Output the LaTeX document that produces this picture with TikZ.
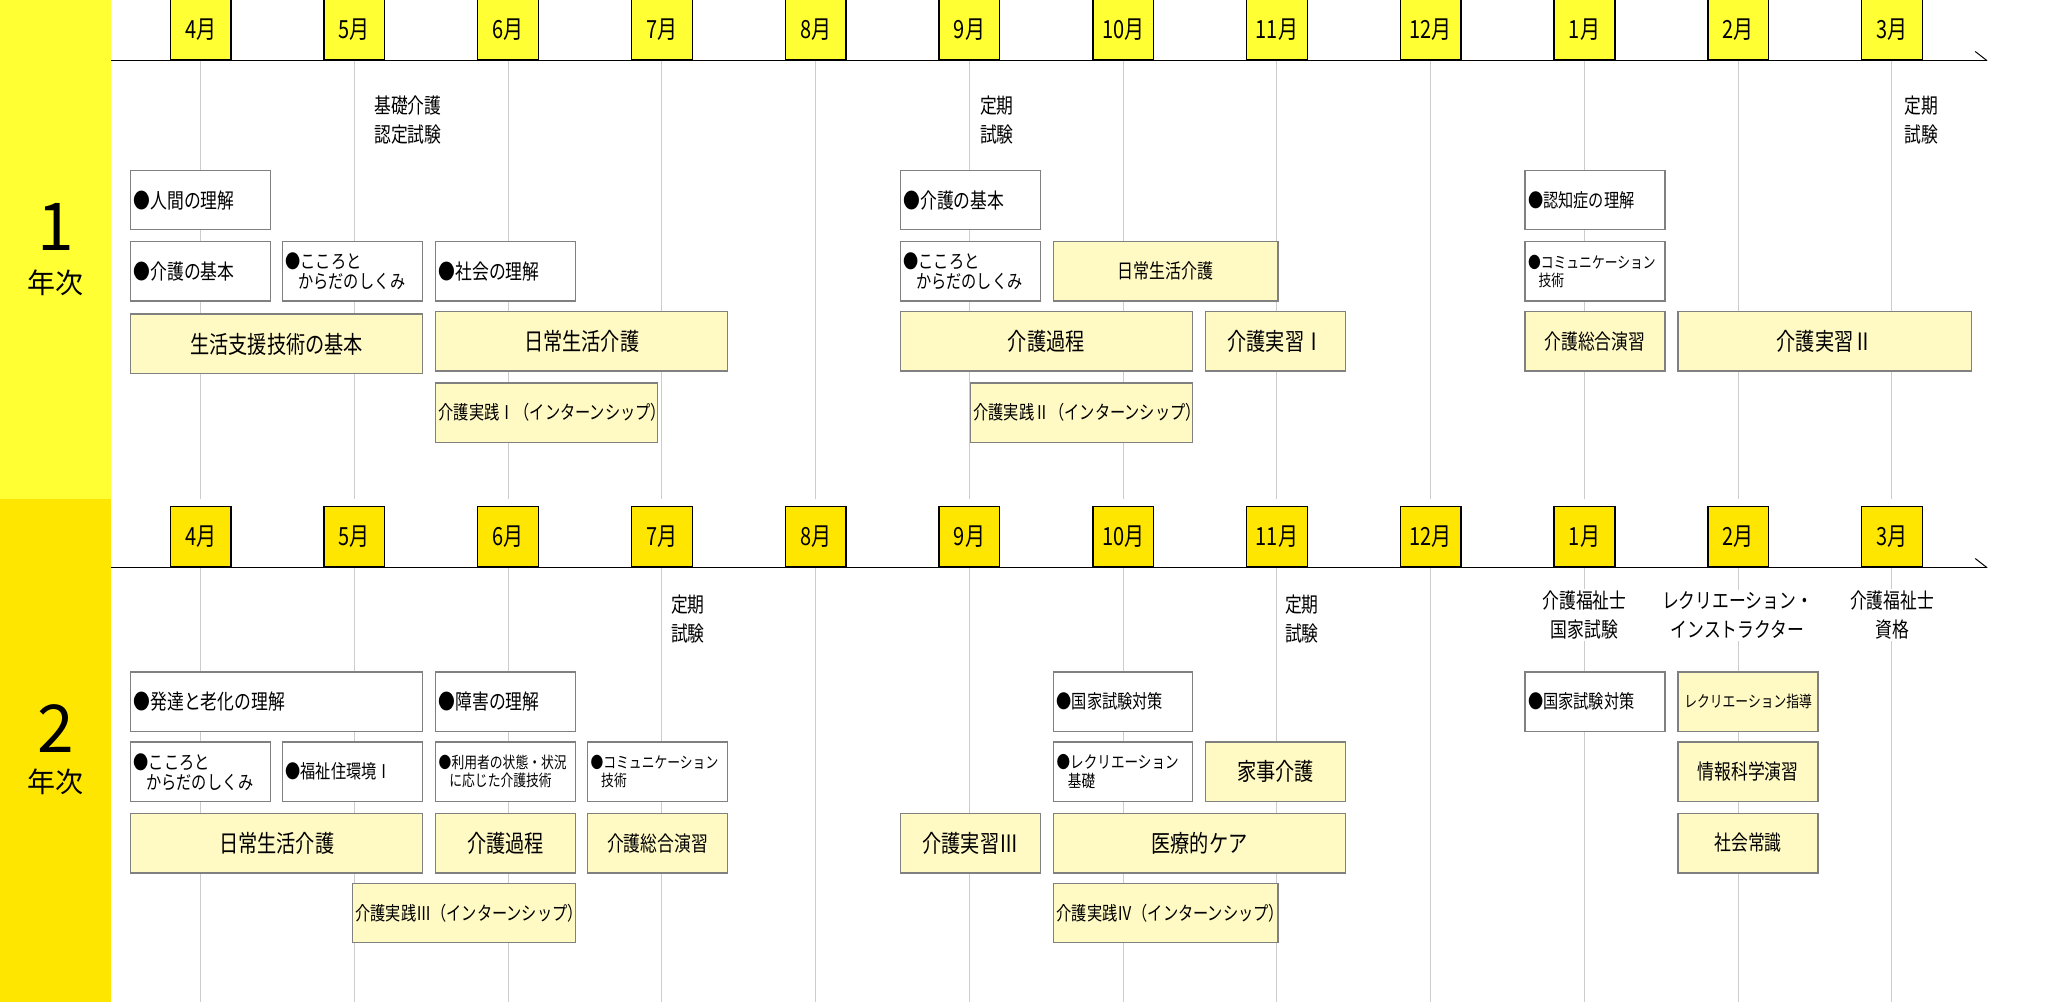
\documentclass[tikz,border=0pt]{standalone}
\usepackage{fontspec}
\setmainfont{Noto Sans CJK JP}
\newfontfamily\cjkc[FakeStretch=0.8]{Noto Sans CJK JP}
\begin{document}
\begin{tikzpicture}[x=1.3203pt,y=-1.3203pt,
  wbox/.style={draw=black!50,line width=1.5pt,fill=white,inner sep=3pt,font=\cjkc\fontsize{21}{23}\selectfont,align=left},
  ybox/.style={draw=black!50,line width=1.5pt,fill=lightyel,inner sep=3pt,font=\cjkc\fontsize{24}{26}\selectfont,align=center},
  sbox/.style={ybox,font=\cjkc\fontsize{19}{21}\selectfont},
  mbox/.style={draw=black,line width=1.3pt,inner sep=0pt,minimum width=46*1.3203pt,minimum height=46*1.3203pt,font=\cjkc\fontsize{25}{26}\selectfont,anchor=south},
  lbl/.style={fill=white,inner sep=2pt,font=\cjkc\fontsize{21}{29}\selectfont,align=center},
  grid/.style={draw=black!20,line width=1pt}]
\definecolor{yelA}{HTML}{FFFF33}
\definecolor{yelB}{HTML}{FFE600}
\definecolor{lightyel}{HTML}{FFF9C4}
\newcommand\bx[7]{\node[#6,text width={(#4-#2)*1.3203pt-6pt},minimum height={(#5-#3)*1.3203pt}] (#1) at ({(#2+#4)/2},{(#3+#5)/2}) {#7};}
\useasboundingbox (0,0) rectangle (1569.3,758.9);
\fill[yelA] (0,0) rectangle (84,378);
\fill[yelB] (0,378) rectangle (84,758.9);
\node[font=\fontsize{66}{66}\selectfont] (y1) at (42,172) {1};
\node[font=\fontsize{28}{28}\selectfont] (y1b) at (42,214) {年次};
\node[font=\fontsize{66}{66}\selectfont] (y2) at (42,552) {2};
\node[font=\fontsize{28}{28}\selectfont] (y2b) at (42,592) {年次};
\foreach \i in {0,...,11}{
  \draw[grid] ({152+116.45*\i},46) -- ({152+116.45*\i},378);
  \draw[grid] ({152+116.45*\i},430) -- ({152+116.45*\i},758.9);
}
\foreach \m [count=\i from 0] in {4,5,6,7,8,9,10,11,12,1,2,3}{
  \node[mbox,fill=yelA] (ma\i) at ({152+116.45*\i},46) {\m 月};
  \node[mbox,fill=yelB] (mb\i) at ({152+116.45*\i},430) {\m 月};
}
\coordinate (ea) at (84,46); \coordinate (eb) at (1505,46); \coordinate (ec) at (1496,39);
\draw[line width=1.3pt] (ea) -- (eb); \draw[line width=1pt] (ec) -- (eb);
\coordinate (fa) at (84,430); \coordinate (fb) at (1505,430); \coordinate (fc) at (1496,423);
\draw[line width=1.3pt] (fa) -- (fb); \draw[line width=1pt] (fc) -- (fb);
\node[lbl] (t1) at (309,91) {基礎介護\\認定試験};
\node[lbl] (t2) at (755,91) {定期\\試験};
\node[lbl] (t3) at (1455,91) {定期\\試験};
\bx{a1}{99}{129}{205}{174}{wbox}{●人間の理解}
\bx{a2}{99}{183}{205}{228}{wbox}{●介護の基本}
\bx{a3}{214}{183}{320}{228}{wbox,font=\cjkc\fontsize{19}{20}\selectfont}{●こころと\\\ \ からだのしくみ}
\bx{a4}{330}{183}{436}{228}{wbox}{●社会の理解}
\bx{a5}{99}{238}{320}{283}{ybox}{生活支援技術の基本}
\bx{a6}{330}{236}{551}{281}{ybox}{日常生活介護}
\bx{a7}{330}{290}{498}{335}{sbox}{介護実践Ⅰ（インターンシップ）}
\bx{a8}{682}{129}{788}{174}{wbox}{●介護の基本}
\bx{a9}{682}{183}{788}{228}{wbox,font=\cjkc\fontsize{19}{20}\selectfont}{●こころと\\\ \ からだのしくみ}
\bx{a10}{798}{183}{968}{228}{ybox,font=\cjkc\fontsize{20}{22}\selectfont}{日常生活介護}
\bx{a11}{682}{236}{903}{281}{ybox}{介護過程}
\bx{a12}{913}{236}{1019}{281}{ybox}{介護実習Ⅰ}
\bx{a13}{735}{290}{903}{335}{sbox}{介護実践Ⅱ（インターンシップ）}
\bx{a14}{1155}{129}{1261}{174}{wbox,font=\cjkc\fontsize{19}{21}\selectfont}{●認知症の理解}
\bx{a15}{1155}{183}{1261}{228}{wbox,font=\cjkc\fontsize{16}{18}\selectfont}{●コミュニケーション\\\ \ 技術}
\bx{a16}{1155}{236}{1261}{281}{ybox,font=\cjkc\fontsize{21}{23}\selectfont}{介護総合演習}
\bx{a17}{1271}{236}{1493}{281}{ybox}{介護実習Ⅱ}
\node[lbl] (u1) at (521,469) {定期\\試験};
\node[lbl] (u2) at (986,469) {定期\\試験};
\node[lbl] (u3) at (1200,466) {介護福祉士\\国家試験};
\node[lbl] (u4) at (1316,466) {レクリエーション・\\インストラクター};
\node[lbl] (u5) at (1433,466) {介護福祉士\\資格};
\bx{b1}{99}{509}{320}{554}{wbox}{●発達と老化の理解}
\bx{b2}{330}{509}{436}{554}{wbox}{●障害の理解}
\bx{b3}{99}{562}{205}{607}{wbox,font=\cjkc\fontsize{19}{20}\selectfont}{●こころと\\\ \ からだのしくみ}
\bx{b4}{214}{562}{320}{607}{wbox,font=\cjkc\fontsize{19}{21}\selectfont}{●福祉住環境Ⅰ}
\bx{b5}{330}{562}{436}{607}{wbox,font=\cjkc\fontsize{16}{18}\selectfont}{●利用者の状態・状況\\\ \ に応じた介護技術}
\bx{b6}{445}{562}{551}{607}{wbox,font=\cjkc\fontsize{16}{18}\selectfont}{●コミュニケーション\\\ \ 技術}
\bx{b7}{99}{616}{320}{661}{ybox}{日常生活介護}
\bx{b8}{330}{616}{436}{661}{ybox}{介護過程}
\bx{b9}{445}{616}{551}{661}{ybox,font=\cjkc\fontsize{21}{23}\selectfont}{介護総合演習}
\bx{b10}{267}{669}{436}{714}{sbox}{介護実践Ⅲ（インターンシップ）}
\bx{b11}{682}{616}{788}{661}{ybox}{介護実習Ⅲ}
\bx{b12}{798}{509}{903}{554}{wbox,font=\cjkc\fontsize{19}{21}\selectfont}{●国家試験対策}
\bx{b13}{798}{562}{903}{607}{wbox,font=\cjkc\fontsize{17}{19}\selectfont}{●レクリエーション\\\ \ 基礎}
\bx{b14}{913}{562}{1019}{607}{ybox}{家事介護}
\bx{b15}{798}{616}{1019}{661}{ybox}{医療的ケア}
\bx{b16}{798}{669}{968}{714}{sbox}{介護実践Ⅳ（インターンシップ）}
\bx{b17}{1155}{509}{1261}{554}{wbox,font=\cjkc\fontsize{19}{21}\selectfont}{●国家試験対策}
\bx{b18}{1271}{509}{1377}{554}{ybox,font=\cjkc\fontsize{16}{18}\selectfont}{レクリエーション指導}
\bx{b19}{1271}{562}{1377}{607}{ybox,font=\cjkc\fontsize{21}{23}\selectfont}{情報科学演習}
\bx{b20}{1271}{616}{1377}{661}{ybox,font=\cjkc\fontsize{21}{23}\selectfont}{社会常識}
\end{tikzpicture}
\end{document}
